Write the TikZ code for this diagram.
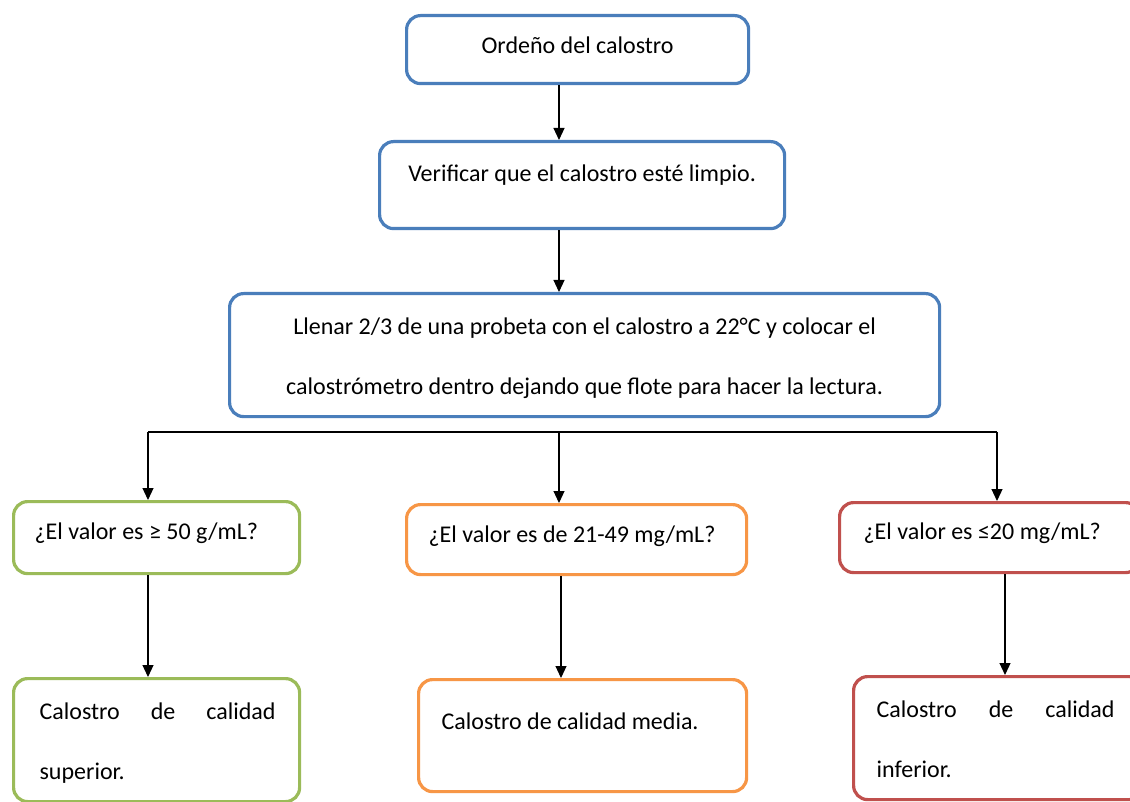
\documentclass[tikz,border=0pt]{standalone}
\usepackage{fontspec}
\setmainfont{Carlito}
\usetikzlibrary{arrows.meta}
\definecolor{cblue}{HTML}{4A7EBB}
\definecolor{cgreen}{HTML}{9BBB59}
\definecolor{corange}{HTML}{F79646}
\definecolor{cred}{HTML}{C0504D}
% #1 width, #2 height, #3 first baseline, #4 paragraph setup, #5 text
\newcommand{\bxtext}[5]{\parbox[t][#2pt][t]{#1pt}{\fontsize{24pt}{60pt}\selectfont\hyphenpenalty=10000\exhyphenpenalty=10000#4\rule{0pt}{#3pt}#5\par}}
\begin{document}
\begin{tikzpicture}[x=1pt,y=-1pt,
  bx/.style={draw=#1, rounded corners=14pt, line width=3.2pt, inner sep=0pt, anchor=north west},
  arr/.style={-{Triangle[width=11pt,length=12pt]}, line width=1.2pt},
  conn/.style={line width=1.2pt}]
\useasboundingbox (0,0) rectangle (1130,802);
\fill[white] (0,0) rectangle (1130,802);
% top boxes
\node[bx=cblue] (b1) at (405,14) {\bxtext{342}{68}{38}{\centering}{Ordeño del calostro}};
\node[bx=cblue] (b2) at (378,140) {\bxtext{405}{87}{40}{\centering}{Verificar que el calostro esté limpio.}};
\node[bx=cblue] (b3) at (228,292) {\bxtext{710}{123}{41}{\centering}{Llenar 2/3 de una probeta con el calostro a 22°C y colocar el\\calostrómetro dentro dejando que flote para hacer la lectura.}};
% question boxes
\node[bx=cgreen] (qg) at (12,500) {\bxtext{286}{72}{38}{\raggedright\leftskip=21pt}{¿El valor es ≥ 50 g/mL?}};
\node[bx=corange] (qo) at (405,503) {\bxtext{340}{70}{38}{\raggedright\leftskip=22pt}{¿El valor es de 21-49 mg/mL?}};
\node[bx=cred] (qr) at (838,501) {\bxtext{300}{70}{37}{\raggedright\leftskip=24pt}{¿El valor es ≤20 mg/mL?}};
% result boxes
\node[bx=cgreen] (rg) at (12,677) {\bxtext{286}{123}{41}{\leftskip=26pt\rightskip=24pt\spaceskip=0.23em plus 10em}{Calostro de calidad superior.}};
\node[bx=corange] (ro) at (417,678) {\bxtext{328}{112}{50}{\raggedright\leftskip=23pt}{Calostro de calidad media.}};
\node[bx=cred] (rr) at (852,675) {\bxtext{290}{123}{41}{\leftskip=23pt\rightskip=29pt\spaceskip=0.23em plus 10em}{Calostro de calidad inferior.}};
% connector columns
\coordinate (spine) at (559,0);
\coordinate (hL) at (148,432);
\coordinate (hR) at (997,432);
\coordinate (cg) at (148,0);
\coordinate (co) at (561,0);
\coordinate (cr) at (1005,0);
\draw[arr] (b1.south -| spine) -- (b2.north -| spine);
\draw[arr] (b2.south -| spine) -- (b3.north -| spine);
\draw[conn] (hL) -- (hR);
\draw[arr] (hL) -- (qg.north -| hL);
\draw[arr] (spine |- hL) -- (qo.north -| spine);
\draw[arr] (hR) -- (qr.north -| hR);
\draw[arr] (qg.south -| cg) -- (rg.north -| cg);
\draw[arr] (qo.south -| co) -- (ro.north -| co);
\draw[arr] (qr.south -| cr) -- (rr.north -| cr);
\end{tikzpicture}
\end{document}
